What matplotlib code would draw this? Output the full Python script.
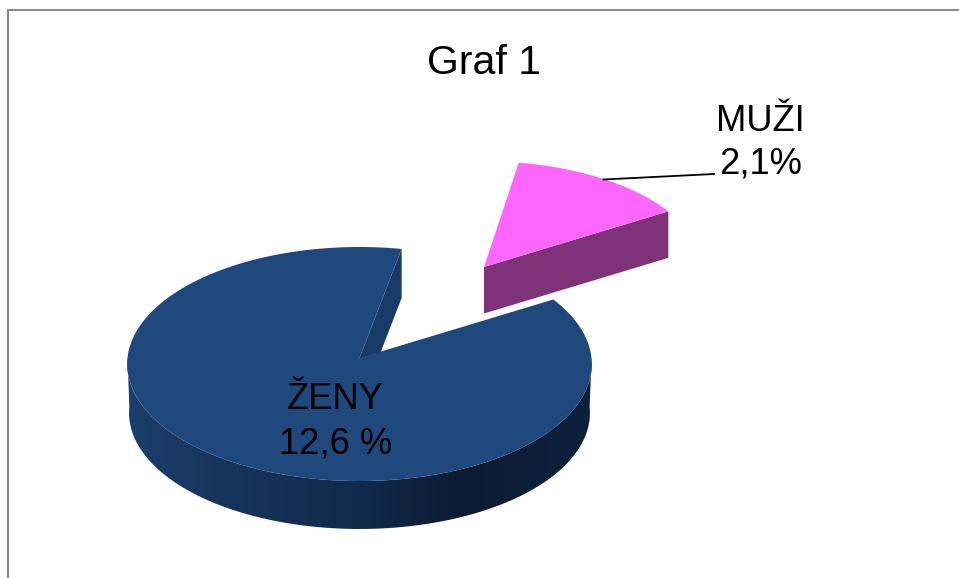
#!/usr/bin/env python
"""Graf 1: exploded 3D pie, drawn as projected polygons."""

import matplotlib
matplotlib.use("Agg")
import matplotlib.pyplot as plt
from matplotlib.patches import Polygon
import numpy as np

categories = ["ŽENY", "MUŽI"]
values = [12.6, 2.1]
value_labels = ["12,6 %", "2,1%"]

title = "Graf 1"

plt.rcParams["font.family"] = ["Liberation Sans", "DejaVu Sans"]

# projection of the pie disc, in pixels
CX, CY = 359.5, 358.0
A, B, K = 232.0, 116.7, 0.0513
DEPTH = 49.0
START = 80.5
SWEEP_SCALE = 0.963  # the picture's wedge is a little narrower than its share
NOTCH_GAP = 1.5

MUZI_SHIFT = (124.5, -91.0)
MUZI_RADIUS = 0.95
MUZI_DEPTH = 46.5

TOP_COLOR = "#1F497D"
CUT_COLOR = "#193B67"
MUZI_TOP = "#FF66FF"
MUZI_SIDE = "#7E3278"
FRAME = "#8A8A8A"

WALL_X = [0.0, 0.25, 0.5, 0.72, 1.0]
WALL_RGB = np.array([
    [0x1B, 0x3F, 0x6C],
    [0x16, 0x33, 0x58],
    [0x12, 0x2A, 0x4A],
    [0x0C, 0x1B, 0x33],
    [0x0D, 0x21, 0x3F],
]) / 255.0


def project(theta_deg, r=1.0, dx=0.0, dy=0.0):
    theta = np.radians(theta_deg)
    x = r * np.cos(theta)
    y = r * np.sin(theta)
    w = 1.0 + K * y
    return CX + dx + A * x / w, CY + dy - B * y / w


def wedge_xy(t0, t1, r=1.0, dx=0.0, dy=0.0):
    t = np.linspace(t0, t1, 300)
    x, y = project(t, r, dx, dy)
    return np.r_[CX + dx, x], np.r_[CY + dy, y]


def main():
    fig = plt.figure(figsize=(9.59, 5.78), dpi=100)
    ax = fig.add_axes([0, 0, 1, 1])

    # frame
    ax.plot([7.5, 7.5, 959], [578, 9.5, 9.5], color=FRAME, lw=1.5, solid_joinstyle="miter")

    sweep = 360.0 * values[1] / sum(values) * SWEEP_SCALE
    muzi_t0 = START - sweep
    muzi_t1 = START
    zeny_t0 = START - NOTCH_GAP
    zeny_t1 = START + 360.0 - sweep

    # ZENY wall: horizontal gradient clipped to the wall outline
    t = np.linspace(180, 360, 361)
    x_top, y_top = project(t)
    x_bot, y_bot = project(t, r=0.992, dy=DEPTH)
    wall = Polygon(
        np.column_stack([np.r_[x_top, x_bot[::-1]], np.r_[y_top, y_bot[::-1]]]),
        closed=True, transform=ax.transData,
    )
    frac = np.linspace(0, 1, 465)
    grad = np.stack([np.interp(frac, WALL_X, WALL_RGB[:, c]) for c in range(3)], axis=-1)[np.newaxis, :, :]
    img = ax.imshow(
        grad, extent=(x_top.min(), x_top.max(), y_bot.max() + 2, y_top.min() - 2),
        aspect="auto", interpolation="bilinear", zorder=2,
    )
    img.set_clip_path(wall)

    # ZENY notch face, then top
    rx, ry = project(zeny_t0)
    ax.fill([CX, rx, rx, CX], [CY, ry, ry + DEPTH, CY + DEPTH], color=CUT_COLOR, lw=0, zorder=3)
    x, y = wedge_xy(zeny_t0, zeny_t1)
    ax.fill(x, y, color=TOP_COLOR, lw=0, zorder=4)

    # MUZI front face and top
    dx, dy = MUZI_SHIFT
    rx, ry = project(muzi_t0, MUZI_RADIUS, dx, dy)
    ax.fill(
        [CX + dx, rx, rx, CX + dx],
        [CY + dy, ry, ry + MUZI_DEPTH, CY + dy + MUZI_DEPTH],
        color=MUZI_SIDE, lw=0, zorder=3,
    )
    x, y = wedge_xy(muzi_t0, muzi_t1, MUZI_RADIUS, dx, dy)
    ax.fill(x, y, color=MUZI_TOP, lw=0, zorder=4)

    # leader line
    ax.plot([603.5, 714], [179.5, 174], color="black", lw=1.3, zorder=5)

    # texts
    ax.text(484, 74, title, fontsize=29.5, ha="center", va="baseline", zorder=6)
    ax.text(335.5, 409, categories[0], fontsize=26.2, ha="center", va="baseline", zorder=6)
    ax.text(335.5, 453, value_labels[0], fontsize=26.2, ha="center", va="baseline", zorder=6)
    ax.text(760, 131, categories[1], fontsize=26.2, ha="center", va="baseline", zorder=6)
    ax.text(760.5, 173, value_labels[1], fontsize=26.2, ha="center", va="baseline", zorder=6)

    ax.set_xlim(0, 959)
    ax.set_ylim(578, 0)
    ax.axis("off")

    fig.savefig("out.png", dpi=100, facecolor="white")
    plt.close(fig)


if __name__ == "__main__":
    main()
